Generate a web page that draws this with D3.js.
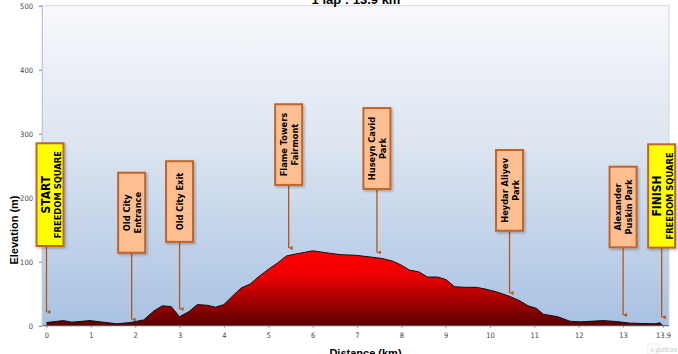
<!DOCTYPE html>
<html><head><meta charset="utf-8">
<script src="https://cdn.jsdelivr.net/npm/d3@7"></script>
<style>html,body{margin:0;padding:0;background:#fff;}svg{display:block;}</style>
</head><body>
<script>
// ---- data ----
const distanceKm = [0,0.38,0.57,0.98,1.21,1.59,1.89,2.19,2.42,2.61,2.81,3.0,3.21,3.40,3.62,3.81,4.0,4.19,4.39,4.59,4.79,5.02,5.21,5.41,5.62,6.0,6.41,6.64,6.97,7.35,7.57,7.80,7.99,8.18,8.40,8.59,8.82,9.01,9.20,9.42,9.69,9.91,10.14,10.44,10.67,10.86,11.05,11.20,11.53,11.80,12.03,12.55,12.86,13.16,13.72,13.83,13.9];
const elevationM = [5,8,5.5,8,6,3,5,9,23,31,30,14,22,33,32,29,33,46,59,65,77,89,98,109,112,117,113,111,110,107,105,101,95,87,84,76,76,72,61,60,60,57,53,46,39,31,27,18,14,7,6,8,6.5,4,3,4.7,0];
const xTicks = [0,1,2,3,4,5,6,7,8,9,10,11,12,13,13.9];
const yTicks = [0,100,200,300,400,500];
const title = "1 lap : 13.9 km";
const xLabel = "Distance (km)";
const yLabel = "Elevation (m)";
const markerNames = [["START","FREEDOM SQUARE"],["Old City","Entrance"],["Old City Exit"],["Flame Towers","Fairmont"],["Huseyn Cavid","Park"],["Heydar Aliyev","Park"],["Alexander","Puskin Park"],["FINISH","FREEDOM SQUARE"]];
const markerKm = [0,1.92,3.0,5.46,7.45,10.44,13.0,13.87];
const markerBoxTop = [285,239,257,346,340,274.5,248.4,283.4];
const markerBoxBottom = [124.5,114,131,220,213.6,148.4,122.5,122];
const markerTip = [20,8,24.5,120,113,49.5,15,11.5];
const markerKind = ["end","mid","mid","mid","mid","mid","mid","end"];

// ---- layout ----
const W = 678, H = 354;
const plot = {left:42, right:669, top:5.7, bottom:325.7};
const x = d3.scaleLinear().domain([0,13.9]).range([46.5,663]);
const y = d3.scaleLinear().domain([0,500]).range([325.7,5.7]);

const svg = d3.select("body").append("svg").attr("width",W).attr("height",H);
const defs = svg.append("defs");
const bg = defs.append("linearGradient").attr("id","bg").attr("x1",0).attr("y1",0).attr("x2",0).attr("y2",1);
bg.append("stop").attr("offset","0%").attr("stop-color","#f8f9fc");
bg.append("stop").attr("offset","45%").attr("stop-color","#dbe4f0");
bg.append("stop").attr("offset","100%").attr("stop-color","#a8c2e2");
const ag = defs.append("linearGradient").attr("id","area").attr("gradientUnits","userSpaceOnUse")
  .attr("x1",0).attr("x2",0).attr("y1",y(115)).attr("y2",y(0));
ag.append("stop").attr("offset","0%").attr("stop-color","#ff0000");
ag.append("stop").attr("offset","35%").attr("stop-color","#e80000");
ag.append("stop").attr("offset","100%").attr("stop-color","#5a0000");
const sh = defs.append("filter").attr("id","sh").attr("x","-30%").attr("y","-10%").attr("width","160%").attr("height","130%");
sh.append("feDropShadow").attr("dx",1.5).attr("dy",1.5).attr("stdDeviation",1).attr("flood-color","#000").attr("flood-opacity",0.25);
defs.append("marker").attr("id","arr").attr("viewBox","0 0 10 10").attr("refX",5).attr("refY",10)
  .attr("markerWidth",4).attr("markerHeight",5).attr("orient","auto-start-reverse").attr("markerUnits","userSpaceOnUse")
  .append("path").attr("d","M0,0 L10,0 L5,10 Z").attr("fill","#b5561c");

// plot background
svg.append("rect").attr("x",plot.left).attr("y",plot.top).attr("width",plot.right-plot.left).attr("height",plot.bottom-plot.top)
  .attr("fill","url(#bg)").attr("stroke","#d0d6de").attr("stroke-width",1);

// area
const pts = distanceKm.map((d,i)=>[d,elevationM[i]]);
svg.append("path").datum(pts)
  .attr("d", d3.area().x(d=>x(d[0])).y0(y(0)).y1(d=>y(d[1])))
  .attr("fill","url(#area)");
svg.append("path").datum(pts)
  .attr("d", d3.line().x(d=>x(d[0])).y(d=>y(d[1])))
  .attr("fill","none").attr("stroke","#111").attr("stroke-width",1);

// axes
const xAxis = svg.append("g").attr("transform",`translate(0,${plot.bottom})`)
  .call(d3.axisBottom(x).tickValues(xTicks).tickFormat(d=>d===13.9?"13.9":d3.format("d")(d)).tickSize(2).tickPadding(5));
xAxis.select(".domain").attr("d",`M${plot.left},0H${plot.right}`).attr("stroke","#555");
const yAxis = svg.append("g").attr("transform",`translate(${plot.left},0)`)
  .call(d3.axisLeft(y).tickValues(yTicks).tickSize(3).tickPadding(6));
yAxis.select(".domain").attr("stroke","#c4cad2");
svg.selectAll(".tick line").attr("stroke","#888");
svg.selectAll(".tick text").attr("fill","#444").style("font-family","'DejaVu Sans Condensed','DejaVu Sans',sans-serif").style("font-size","7.5px");

// titles
svg.append("text").attr("x",356).attr("y",3.5).attr("text-anchor","middle")
  .style("font-family","'Liberation Sans',Arial,sans-serif").style("font-weight","bold").style("font-size","13px").text(title);
svg.append("text").attr("x",365.5).attr("y",357).attr("text-anchor","middle")
  .style("font-family","'Liberation Sans',Arial,sans-serif").style("font-weight","bold").style("font-size","11px").text(xLabel);
svg.append("text").attr("transform","translate(18,230) rotate(-90)").attr("text-anchor","middle")
  .style("font-family","'Liberation Sans',Arial,sans-serif").style("font-weight","bold").style("font-size","11px").text(yLabel);

// markers
const boxW = 27;
markerNames.forEach((lines,i)=>{
  const ax = x(markerKm[i]);
  const cx = i===0 ? ax+3.5 : ax;
  const top = y(markerBoxTop[i]), bot = y(markerBoxBottom[i]);
  const g = svg.append("g");
  g.append("line").attr("x1",ax).attr("x2",ax).attr("y1",bot).attr("y2",y(markerTip[i])-1)
    .attr("stroke","#b5561c").attr("stroke-width",1.3).attr("marker-end","url(#arr)");
  g.append("rect").attr("x",cx-boxW/2).attr("y",top).attr("width",boxW).attr("height",bot-top)
    .attr("fill", markerKind[i]==="end" ? "#ffff00" : "#fdbf91")
    .attr("stroke","#c0652a").attr("stroke-width",2).attr("filter","url(#sh)");
  const cy = (top+bot)/2;
  let offs, sizes;
  if (markerKind[i]==="end") { offs = [-4.3, 7.6]; sizes = [12, 9.3]; }
  else if (lines.length===2) { offs = [-5.5, 5.5]; sizes = [9.2, 9.2]; }
  else { offs = [0]; sizes = [9.2]; }
  lines.forEach((t,j)=>{
    g.append("text").attr("transform",`translate(${cx+offs[j]},${cy}) rotate(-90)`)
      .attr("text-anchor","middle").attr("dominant-baseline","central")
      .style("font-family","'DejaVu Sans Condensed','DejaVu Sans',sans-serif").style("font-weight","bold")
      .style("font-size",sizes[j]+"px").attr("fill","#000").text(t);
  });
});

// watermark
svg.append("rect").attr("x",648).attr("y",344).attr("width",11).attr("height",10).attr("fill","none").attr("stroke","#e2e2e2").attr("stroke-width",0.6);
svg.append("text").attr("x",650).attr("y",352).style("font-family","'DejaVu Sans',sans-serif").style("font-style","italic")
  .style("font-size","7px").attr("fill","#c8c8c8").text("v.pdbas");
</script>
</body></html>
